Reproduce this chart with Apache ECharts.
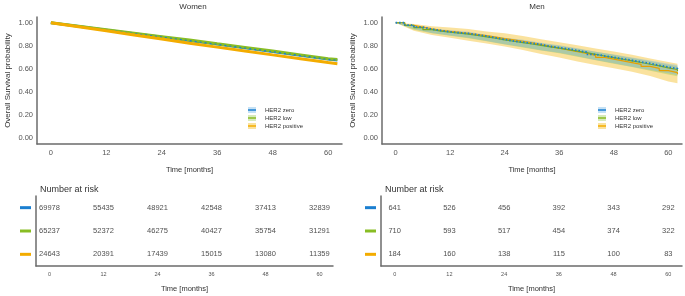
<!DOCTYPE html>
<html>
<head>
<meta charset="utf-8">
<script src="https://cdn.jsdelivr.net/npm/echarts@6/dist/echarts.min.js"></script>
<style>
  html, body { margin: 0; padding: 0; background: #fff; }
  #chart { width: 685px; height: 296px; }
</style>
</head>
<body>
<div id="chart"></div>
<script>
// ---- data ----
var groups = ['HER2 zero', 'HER2 low', 'HER2 positive'];
var colors = ['#1b7fd0', '#88bd24', '#f3ac00'];
var bandColors = ['rgba(110,180,230,0.40)', 'rgba(140,195,60,0.35)', 'rgba(245,190,40,0.45)'];

var riskTimes = [0, 12, 24, 36, 48, 60];
var womenRiskZero = [69978, 55435, 48921, 42548, 37413, 32839];
var womenRiskLow = [65237, 52372, 46275, 40427, 35754, 31291];
var womenRiskPos = [24643, 20391, 17439, 15015, 13080, 11359];
var menRiskZero = [641, 526, 456, 392, 343, 292];
var menRiskLow = [710, 593, 517, 454, 374, 322];
var menRiskPos = [184, 160, 138, 115, 100, 83];

// women survival (months)
var womenT = [0, 6, 12, 18, 24, 30, 36, 42, 48, 54, 60, 62];
var womenZero = [1.0, 0.969, 0.938, 0.907, 0.876, 0.845, 0.813, 0.781, 0.749, 0.716, 0.683, 0.675];
var womenLow = [1.0, 0.970, 0.940, 0.910, 0.880, 0.850, 0.818, 0.787, 0.755, 0.722, 0.688, 0.681];
var womenPos = [1.0, 0.965, 0.930, 0.895, 0.859, 0.823, 0.789, 0.756, 0.722, 0.689, 0.655, 0.645];

// men survival (months)
var menT = [0, 2, 4, 6, 8, 10, 12, 14, 16, 18, 20, 22, 24, 26, 28, 30, 32, 34, 36, 38, 40, 42, 44, 46, 48, 50, 52, 54, 56, 58, 60, 62];
var menZero = [1.0, 0.980, 0.962, 0.945, 0.932, 0.922, 0.913, 0.908, 0.897, 0.884, 0.870, 0.855, 0.842, 0.832, 0.822, 0.812, 0.795, 0.784, 0.774, 0.760, 0.745, 0.727, 0.713, 0.700, 0.688, 0.675, 0.661, 0.648, 0.632, 0.616, 0.604, 0.592];
var menLow = [1.0, 0.978, 0.958, 0.940, 0.928, 0.918, 0.910, 0.902, 0.890, 0.878, 0.866, 0.852, 0.840, 0.828, 0.816, 0.805, 0.792, 0.780, 0.768, 0.755, 0.741, 0.727, 0.712, 0.698, 0.684, 0.670, 0.656, 0.641, 0.626, 0.610, 0.595, 0.580];
var menPos = [1.0, 0.978, 0.962, 0.948, 0.935, 0.925, 0.918, 0.908, 0.898, 0.888, 0.875, 0.862, 0.852, 0.840, 0.826, 0.810, 0.795, 0.780, 0.766, 0.750, 0.735, 0.718, 0.700, 0.685, 0.670, 0.655, 0.640, 0.622, 0.605, 0.585, 0.568, 0.555];

// men confidence bands
var bandT = [0, 4, 8, 12, 16, 20, 24, 28, 32, 36, 40, 44, 48, 52, 56, 60, 62];
var menZeroLo = [1.0, 0.945, 0.912, 0.890, 0.870, 0.843, 0.813, 0.790, 0.762, 0.740, 0.710, 0.677, 0.650, 0.620, 0.590, 0.562, 0.548];
var menZeroHi = [1.0, 0.978, 0.950, 0.935, 0.922, 0.896, 0.870, 0.852, 0.827, 0.806, 0.780, 0.750, 0.725, 0.700, 0.673, 0.646, 0.634];
var menLowLo = [1.0, 0.940, 0.910, 0.888, 0.865, 0.840, 0.812, 0.786, 0.760, 0.735, 0.706, 0.675, 0.646, 0.616, 0.585, 0.553, 0.537];
var menLowHi = [1.0, 0.975, 0.947, 0.930, 0.915, 0.892, 0.868, 0.846, 0.823, 0.800, 0.776, 0.748, 0.722, 0.695, 0.667, 0.637, 0.623];
var menPosLo = [1.0, 0.930, 0.895, 0.870, 0.845, 0.820, 0.795, 0.765, 0.730, 0.700, 0.665, 0.635, 0.607, 0.575, 0.540, 0.492, 0.476];
var menPosHi = [1.0, 0.990, 0.970, 0.960, 0.945, 0.925, 0.910, 0.885, 0.858, 0.832, 0.805, 0.778, 0.752, 0.722, 0.690, 0.660, 0.645];

var FONT = '"Liberation Sans", Arial, sans-serif';
var axisCol = '#6b6b6b';
var labCol = '#555';

function pairs(xs, ys) {
    var out = [];
    for (var i = 0; i < xs.length; i++) out.push([xs[i], ys[i]]);
    return out;
}

function survX(idx) {
    return {
        type: 'value', gridIndex: idx, min: -3, max: 63, interval: 3,
        axisLine: { show: true, onZero: false, lineStyle: { color: axisCol, width: 1.5 } },
        axisTick: { show: false },
        splitLine: { show: false },
        axisLabel: {
            fontSize: 7.5, color: labCol, fontFamily: FONT, margin: 5,
            formatter: function (v) { return (v >= 0 && v % 12 === 0) ? String(v) : ''; }
        },
        name: 'Time [months]', nameLocation: 'middle', nameGap: 22,
        nameTextStyle: { fontSize: 7.5, color: '#333', fontFamily: FONT }
    };
}

function survY(idx) {
    return {
        type: 'value', gridIndex: idx, min: -0.05, max: 1.05, interval: 0.05,
        axisLine: { show: true, onZero: false, lineStyle: { color: axisCol, width: 1.5 } },
        axisTick: { show: false },
        splitLine: { show: false },
        axisLabel: {
            fontSize: 7.5, color: labCol, fontFamily: FONT, margin: 4,
            formatter: function (v) {
                var k = v * 5;
                return (v > -0.01 && Math.abs(k - Math.round(k)) < 1e-6) ? v.toFixed(2) : '';
            }
        },
        name: 'Overall Survival probability', nameLocation: 'middle', nameGap: 25,
        nameTextStyle: { fontSize: 8, color: '#333', fontFamily: FONT }
    };
}

function riskX(idx) {
    return {
        type: 'value', gridIndex: idx, min: -3, max: 63, interval: 3,
        axisLine: { show: true, onZero: false, lineStyle: { color: axisCol, width: 1.5 } },
        axisTick: { show: false },
        splitLine: { show: false },
        axisLabel: {
            fontSize: 5.5, color: labCol, fontFamily: FONT, margin: 5,
            formatter: function (v) { return (v >= 0 && v % 12 === 0) ? String(v) : ''; }
        },
        name: 'Time [months]', nameLocation: 'middle', nameGap: 19,
        nameTextStyle: { fontSize: 7.5, color: '#333', fontFamily: FONT }
    };
}

function riskY(idx) {
    return {
        type: 'category', gridIndex: idx, data: groups, inverse: true,
        axisLine: { show: true, onZero: false, lineStyle: { color: axisCol, width: 1.5 } },
        axisTick: { show: false },
        splitLine: { show: false },
        axisLabel: {
            margin: 5,
            formatter: function (v, i) { return '{c' + i + '|}'; },
            rich: {
                c0: { backgroundColor: colors[0], width: 11, height: 3 },
                c1: { backgroundColor: colors[1], width: 11, height: 3 },
                c2: { backgroundColor: colors[2], width: 11, height: 3 }
            }
        }
    };
}

function riskSeries(idx, rows) {
    var data = [];
    for (var r = 0; r < rows.length; r++) {
        for (var i = 0; i < riskTimes.length; i++) {
            data.push([riskTimes[i], groups[r], rows[r][i]]);
        }
    }
    return {
        type: 'scatter', xAxisIndex: idx, yAxisIndex: idx,
        symbolSize: 1, itemStyle: { color: 'rgba(0,0,0,0)' }, silent: true,
        data: data,
        label: {
            show: true, position: 'inside', fontSize: 7.5, color: '#222', fontFamily: FONT,
            formatter: function (p) { return String(p.data[2]); }
        }
    };
}

function line(idx, xs, ys, color, width, type, z, step) {
    return {
        type: 'line', xAxisIndex: idx, yAxisIndex: idx, data: pairs(xs, ys),
        symbol: 'none', step: step || false, z: z, silent: true,
        lineStyle: { color: color, width: width, type: type || 'solid' }
    };
}

// confidence band drawn as a polygon through the axis scales
function band(idx, lo, hi, color) {
    var data = [];
    for (var i = 0; i < bandT.length; i++) data.push([bandT[i], lo[i], hi[i]]);
    return {
        type: 'custom', xAxisIndex: idx, yAxisIndex: idx, silent: true, z: 1,
        data: data,
        encode: { x: 0, y: [1, 2] },
        renderItem: function (params, api) {
            if (params.dataIndex !== 0) return null;
            var top = [], bot = [];
            for (var i = 0; i < data.length; i++) {
                top.push(api.coord([data[i][0], data[i][2]]));
                bot.push(api.coord([data[i][0], data[i][1]]));
            }
            return {
                type: 'polygon',
                shape: { points: top.concat(bot.reverse()) },
                style: { fill: color, stroke: null }
            };
        }
    };
}

function legendGroup(x, y) {
    var children = [];
    for (var i = 0; i < groups.length; i++) {
        var yy = y + i * 8;
        children.push({ type: 'rect', shape: { x: x, y: yy - 3, width: 8, height: 6 }, style: { fill: bandColors[i] } });
        children.push({ type: 'line', shape: { x1: x, y1: yy, x2: x + 8, y2: yy }, style: { stroke: colors[i], lineWidth: 1.5 } });
        children.push({
            type: 'text', x: x + 17, y: yy,
            style: { text: groups[i], fontSize: 6, fill: '#333', fontFamily: FONT, verticalAlign: 'middle' }
        });
    }
    return { type: 'group', children: children };
}

var series = [];
// women panel
series.push(line(0, womenT, womenZero, colors[0], 2.5, 'solid', 3));
series.push(line(0, womenT, womenLow, colors[1], 3, 'solid', 4));
series.push(line(0, womenT, womenZero, colors[0], 1.2, [2, 3], 5));
series.push(line(0, womenT, womenPos, colors[2], 3, 'solid', 6));
// men panel
series.push(band(1, menPosLo, menPosHi, bandColors[2]));
series.push(band(1, menLowLo, menLowHi, bandColors[1]));
series.push(band(1, menZeroLo, menZeroHi, bandColors[0]));
series.push(line(1, menT, menPos, '#e89f00', 1.2, 'solid', 4, 'end'));
series.push(line(1, menT, menLow, '#7aab1c', 1.2, 'solid', 5, 'end'));
series.push(line(1, menT, menZero, colors[0], 1.8, [1.5, 2], 6, 'end'));
// risk tables
series.push(riskSeries(2, [womenRiskZero, womenRiskLow, womenRiskPos]));
series.push(riskSeries(3, [menRiskZero, menRiskLow, menRiskPos]));

var chart = echarts.init(document.getElementById('chart'), null, { renderer: 'canvas' });
chart.setOption({
    backgroundColor: '#fff',
    animation: false,
    textStyle: { fontFamily: FONT },
    title: [
        { text: 'Women', left: 188, top: -2, textAlign: 'center', textStyle: { fontSize: 8, fontWeight: 'normal', color: '#333' } },
        { text: 'Men', left: 532, top: -2, textAlign: 'center', textStyle: { fontSize: 8, fontWeight: 'normal', color: '#333' } },
        { text: 'Number at risk', left: 35, top: 180, textStyle: { fontSize: 9, fontWeight: 'normal', color: '#333' } },
        { text: 'Number at risk', left: 380, top: 180, textStyle: { fontSize: 9, fontWeight: 'normal', color: '#333' } }
    ],
    grid: [
        { left: 37, top: 17, width: 305, height: 127 },
        { left: 382, top: 17, width: 305, height: 127 },
        { left: 36, top: 196, width: 297, height: 70 },
        { left: 381, top: 196, width: 301, height: 70 }
    ],
    xAxis: [survX(0), survX(1), riskX(2), riskX(3)],
    yAxis: [survY(0), survY(1), riskY(2), riskY(3)],
    graphic: [legendGroup(248, 110), legendGroup(598, 110)],
    series: series
});
</script>
</body>
</html>
